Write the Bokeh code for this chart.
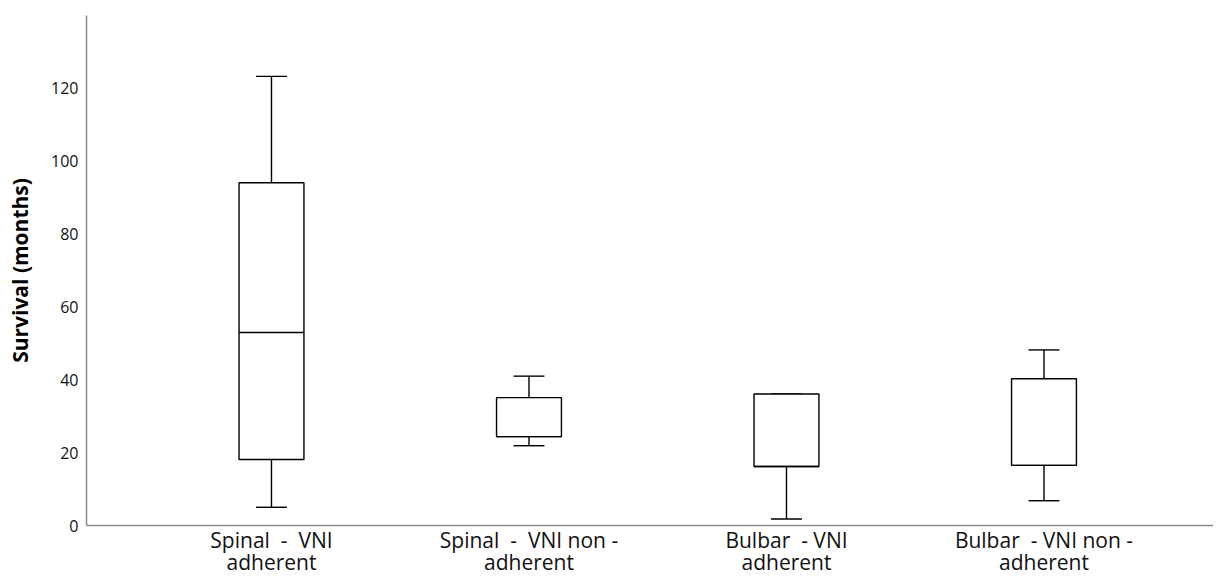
from bokeh.plotting import figure
from bokeh.models import Range1d, FixedTicker, ColumnDataSource
from bokeh.embed import file_html
from bokeh.resources import INLINE

# ---- data ----
categories = [
    "Spinal \u00a0-\u00a0 VNI\nadherent",
    "Spinal \u00a0-\u00a0 VNI non -\nadherent",
    "Bulbar \u00a0- VNI\nadherent",
    "Bulbar \u00a0- VNI non -\nadherent",
]
whisker_low = [5.0, 21.9, 1.8, 6.8]
q1 = [18.1, 24.4, 16.2, 16.5]
median = [53.0, 24.4, 16.2, 16.5]
q3 = [94.1, 35.1, 36.1, 40.3]
whisker_high = [123.3, 41.0, 36.1, 48.2]
y_ticks = [0, 20, 40, 60, 80, 100, 120]
y_title = "Survival (months)"

pos = list(range(1, len(categories) + 1))
box_w = 0.252
cap_w = 0.12

src = ColumnDataSource(dict(
    x=pos,
    left=[p - box_w / 2 for p in pos],
    right=[p + box_w / 2 for p in pos],
    cl=[p - cap_w / 2 for p in pos],
    cr=[p + cap_w / 2 for p in pos],
    lo=whisker_low, q1=q1, med=median, q3=q3, hi=whisker_high,
))

x0, x1 = 0.2816, 4.6583
p = figure(width=1213, height=578, output_backend="svg", toolbar_location=None,
           x_range=Range1d(x0, x1), y_range=Range1d(0, 140),
           min_border_left=86, min_border_right=0, min_border_top=15, min_border_bottom=40)
p.outline_line_color = None
p.xgrid.visible = False
p.ygrid.visible = False
p.background_fill_color = "white"
p.border_fill_color = "white"

lw = 1.4
p.segment(x0="x", y0="q3", x1="x", y1="hi", source=src, line_color="black", line_width=lw)
p.segment(x0="x", y0="lo", x1="x", y1="q1", source=src, line_color="black", line_width=lw)
p.segment(x0="cl", y0="hi", x1="cr", y1="hi", source=src, line_color="black", line_width=lw)
p.segment(x0="cl", y0="lo", x1="cr", y1="lo", source=src, line_color="black", line_width=lw)
p.quad(left="left", right="right", bottom="q1", top="q3", source=src,
       fill_color="white", line_color="black", line_width=lw)
p.segment(x0="left", y0="med", x1="right", y1="med", source=src, line_color="black", line_width=lw)

for ax in (p.xaxis, p.yaxis):
    ax.major_tick_line_color = None
    ax.minor_tick_line_color = None
    ax.major_tick_out = 0
    ax.major_tick_in = 0
    ax.minor_tick_out = 0
    ax.minor_tick_in = 0
    ax.axis_line_color = "#8a8a8a"
    ax.axis_line_width = 1.5
    ax.major_label_text_font = "Open Sans"
    ax.major_label_text_color = "#111111"

p.xaxis.ticker = FixedTicker(ticks=pos)
p.xaxis.major_label_overrides = {pos[i]: categories[i] for i in range(len(pos))}
p.xaxis.major_label_text_font_size = "21px"
p.xaxis.major_label_text_line_height = 0.8
p.xaxis.major_label_standoff = 0

p.yaxis.ticker = FixedTicker(ticks=y_ticks)
p.yaxis.major_label_text_font_size = "16px"
p.yaxis.major_label_standoff = 8
p.yaxis.axis_label = y_title
p.yaxis.axis_label_text_font = "Open Sans"
p.yaxis.axis_label_text_font_style = "bold"
p.yaxis.axis_label_text_font_size = "21px"
p.yaxis.axis_label_text_color = "black"
p.yaxis.axis_label_standoff = 14

open("out.html", "w").write(file_html(p, INLINE))
